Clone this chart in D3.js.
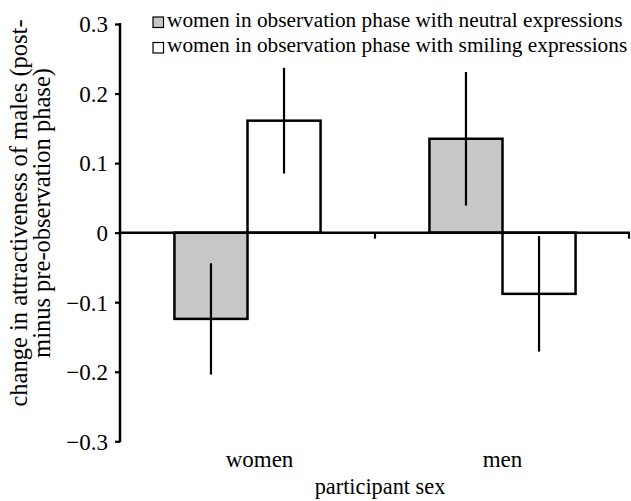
<!DOCTYPE html>
<html><head><meta charset="utf-8">
<script src="https://cdn.jsdelivr.net/npm/d3@7"></script>
<style>body{margin:0;background:#fff}svg{display:block}</style>
</head><body>
<script>
const categories = ["women", "men"];
const seriesNames = ["women in observation phase with neutral expressions", "women in observation phase with smiling expressions"];
const neutralValues = [-0.124, 0.135];
const neutralErrors = [0.080, 0.096];
const smilingValues = [0.161, -0.088];
const smilingErrors = [0.076, 0.083];
const yTicks = [-0.3, -0.2, -0.1, 0, 0.1, 0.2, 0.3];
const seriesFill = ["#c8c8c8", "#ffffff"];

const FONT = '"Liberation Serif", "Times New Roman", serif';
const W = 631, H = 501;
const svg = d3.select("body").append("svg").attr("width", W).attr("height", H);
const y = d3.scaleLinear().domain([-0.3, 0.3]).range([441.3, 24]);
const x0 = d3.scaleBand().domain(categories).range([120, 630]);
const x1 = d3.scaleBand().domain([0, 1]).range([0, x0.bandwidth()]).paddingOuter(0.745).paddingInner(0);

const fmt = v => v === 0 ? "0" : (v < 0 ? "\u2212" + d3.format(".1f")(-v) : d3.format(".1f")(v));

const data = [];
categories.forEach((c, i) => {
  data.push({c, s: 0, v: neutralValues[i], e: neutralErrors[i]});
  data.push({c, s: 1, v: smilingValues[i], e: smilingErrors[i]});
});
svg.selectAll("rect.bar").data(data).enter().append("rect")
  .attr("x", d => x0(d.c) + x1(d.s))
  .attr("width", x1.bandwidth())
  .attr("y", d => y(Math.max(0, d.v)))
  .attr("height", d => Math.abs(y(d.v) - y(0)))
  .attr("fill", d => seriesFill[d.s])
  .attr("stroke", "#000").attr("stroke-width", 2.5);

svg.selectAll("line.err").data(data).enter().append("line")
  .attr("x1", d => x0(d.c) + x1(d.s) + x1.bandwidth() / 2)
  .attr("x2", d => x0(d.c) + x1(d.s) + x1.bandwidth() / 2)
  .attr("y1", d => y(d.v - d.e)).attr("y2", d => y(d.v + d.e))
  .attr("stroke", "#000").attr("stroke-width", 2.2);

// y axis
const yAxis = svg.append("g").attr("transform", "translate(120,0)")
  .call(d3.axisLeft(y).tickValues(yTicks).tickFormat(fmt).tickSize(5).tickPadding(7));
yAxis.select(".domain").attr("stroke-width", 2.5).attr("d", `M0,${y(0.3) - 1}V${y(-0.3) + 1}`);
yAxis.selectAll(".tick line").attr("stroke-width", 2.2);
yAxis.selectAll("text").style("font-family", FONT).style("font-size", "23px").attr("dy", "0.34em").attr("fill", "#000");

// x axis at zero
const xAxis = svg.append("g").attr("transform", `translate(0,${y(0)})`)
  .call(d3.axisBottom(x0).tickValues([]).tickSizeOuter(0));
xAxis.select(".domain").attr("stroke-width", 2.5).attr("d", `M120,0H630`);
xAxis.selectAll("line.sep").data([x0("men"), x0.range()[1] - 1]).enter().append("line").attr("class", "sep")
  .attr("x1", d => d).attr("x2", d => d).attr("y1", 0).attr("y2", 6)
  .attr("stroke", "#000").attr("stroke-width", 2.2);

// category labels
const catLabelDx = [12, 0];
svg.selectAll("text.cat").data(categories).enter().append("text")
  .attr("x", (d, i) => x0(d) + x0.bandwidth() / 2 + catLabelDx[i]).attr("y", 467)
  .attr("text-anchor", "middle").style("font-family", FONT).style("font-size", "23px").text(d => d);

svg.append("text").attr("x", 380).attr("y", 494).attr("text-anchor", "middle")
  .style("font-family", FONT).style("font-size", "22.3px").text("participant sex");

// y label
const yl = svg.append("text").attr("transform", "translate(0,213) rotate(-90)")
  .attr("text-anchor", "middle").style("font-family", FONT).style("font-size", "24.5px");
yl.append("tspan").attr("x", 0).attr("y", 27).text("change in attractiveness of males (post-");
yl.append("tspan").attr("x", 0).attr("y", 50).text("minus pre-observation phase)");

// legend
const lg = svg.selectAll("g.leg").data(seriesNames).enter().append("g")
  .attr("transform", (d, i) => `translate(153,${17 + i * 25.5})`);
lg.append("rect").attr("width", 10.5).attr("height", 10.5)
  .attr("fill", (d, i) => seriesFill[i]).attr("stroke", "#000").attr("stroke-width", 1.2);
lg.append("text").attr("x", 14).attr("y", 9.5).style("font-family", FONT).style("font-size", "21.3px").text(d => d);
</script>
</body></html>
